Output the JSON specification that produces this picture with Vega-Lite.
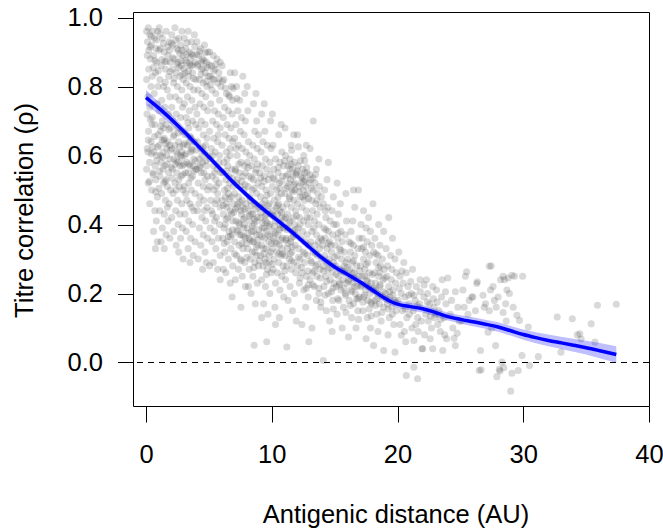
{
"$schema": "https://vega.github.io/schema/vega-lite/v6.json",
"width": 516, "height": 394,
"autosize": "none",
"padding": {"left": 133, "top": 12, "right": 14, "bottom": 124},
"background": "white",
"config": {
 "font": "Liberation Sans",
 "view": {"stroke": "black", "strokeWidth": 1},
 "axisX": {"domain": false, "grid": false, "tickSize": 16, "tickColor": "black", "tickWidth": 1, "labelFontSize": 25.5, "labelColor": "black", "labelPadding": 20, "labelFlush": false, "labelOverlap": false, "labelBound": false, "titleFontSize": 25.5, "titleFontWeight": "normal", "titleColor": "black", "titleX": 262.5, "titleY": 116, "titleBaseline": "alphabetic", "titleAlign": "center"},
 "axisY": {"domain": false, "grid": false, "tickSize": 15.5, "tickColor": "black", "tickWidth": 1, "labelFontSize": 25.5, "labelColor": "black", "labelPadding": 15, "labelFlush": false, "labelOverlap": false, "labelBound": false, "titleFontSize": 25.5, "titleFontWeight": "normal", "titleColor": "black", "titleX": -100.7, "titleY": 198, "titleBaseline": "alphabetic", "titleAlign": "center", "titleAngle": 270}
},
"datasets": {
"fit": [
{"x":0,"y":0.768,"lo":0.746,"hi":0.79},
{"x":1,"y":0.738,"lo":0.72,"hi":0.756},
{"x":2,"y":0.705,"lo":0.69,"hi":0.72},
{"x":3,"y":0.67,"lo":0.657,"hi":0.683},
{"x":4,"y":0.633,"lo":0.622,"hi":0.644},
{"x":5,"y":0.596,"lo":0.586,"hi":0.606},
{"x":6,"y":0.558,"lo":0.548,"hi":0.568},
{"x":7,"y":0.52,"lo":0.51,"hi":0.53},
{"x":8,"y":0.486,"lo":0.476,"hi":0.496},
{"x":9,"y":0.454,"lo":0.444,"hi":0.464},
{"x":10,"y":0.425,"lo":0.415,"hi":0.435},
{"x":11,"y":0.396,"lo":0.386,"hi":0.406},
{"x":12,"y":0.366,"lo":0.356,"hi":0.376},
{"x":13,"y":0.334,"lo":0.324,"hi":0.344},
{"x":14,"y":0.303,"lo":0.293,"hi":0.313},
{"x":15,"y":0.277,"lo":0.267,"hi":0.287},
{"x":16,"y":0.256,"lo":0.246,"hi":0.266},
{"x":17,"y":0.234,"lo":0.224,"hi":0.244},
{"x":18,"y":0.21,"lo":0.2,"hi":0.22},
{"x":19,"y":0.186,"lo":0.175,"hi":0.197},
{"x":19.5,"y":0.176,"lo":0.165,"hi":0.187},
{"x":20,"y":0.169,"lo":0.158,"hi":0.18},
{"x":21,"y":0.162,"lo":0.151,"hi":0.173},
{"x":22,"y":0.156,"lo":0.145,"hi":0.167},
{"x":23,"y":0.145,"lo":0.134,"hi":0.156},
{"x":24,"y":0.133,"lo":0.122,"hi":0.144},
{"x":25,"y":0.125,"lo":0.113,"hi":0.137},
{"x":26,"y":0.118,"lo":0.105,"hi":0.131},
{"x":27,"y":0.111,"lo":0.098,"hi":0.124},
{"x":28,"y":0.103,"lo":0.089,"hi":0.117},
{"x":29,"y":0.092,"lo":0.078,"hi":0.106},
{"x":30,"y":0.081,"lo":0.066,"hi":0.096},
{"x":31,"y":0.072,"lo":0.056,"hi":0.088},
{"x":32,"y":0.064,"lo":0.047,"hi":0.081},
{"x":33,"y":0.057,"lo":0.039,"hi":0.075},
{"x":34,"y":0.05,"lo":0.031,"hi":0.069},
{"x":35,"y":0.043,"lo":0.023,"hi":0.063},
{"x":36,"y":0.035,"lo":0.013,"hi":0.057},
{"x":37.4,"y":0.023,"lo":-0.001,"hi":0.047}
],
"pts": [
{"x":0.05,"y":0.96},{"x":0.12,"y":0.93},{"x":0.18,"y":0.97},{"x":0.3,"y":0.95},{"x":0.42,"y":0.92},{"x":0.55,"y":0.96},{"x":0.68,"y":0.94},{"x":0.8,"y":0.91},{"x":0.92,"y":0.96},{"x":0.1,"y":0.89},{"x":0.35,"y":0.88},{"x":0.6,"y":0.89},{"x":0.85,"y":0.87},{"x":0.22,"y":0.85},{"x":0.5,"y":0.83},{"x":0.75,"y":0.84},{"x":0.05,"y":0.82},{"x":0.4,"y":0.8},{"x":0.95,"y":0.8},{"x":0.15,"y":0.77},{"x":0.65,"y":0.78},{"x":0.3,"y":0.74},{"x":0.88,"y":0.75},{"x":0.08,"y":0.72},{"x":0.5,"y":0.71},{"x":0.7,"y":0.69},{"x":0.2,"y":0.67},{"x":0.95,"y":0.66},{"x":0.4,"y":0.64},{"x":0.1,"y":0.62},{"x":0.62,"y":0.61},{"x":0.85,"y":0.6},{"x":0.28,"y":0.58},{"x":0.05,"y":0.56},{"x":0.55,"y":0.55},{"x":0.78,"y":0.53},{"x":0.18,"y":0.52},{"x":0.45,"y":0.5},{"x":0.9,"y":0.48},{"x":0.3,"y":0.46},{"x":0.7,"y":0.44},{"x":0.82,"y":0.41},{"x":0.6,"y":0.38},{"x":0.9,"y":0.35},{"x":0.75,"y":0.33},{"x":0.48,"y":0.69},{"x":0.15,"y":0.61},{"x":0.72,"y":0.57},
{"x":1.05,"y":0.97},{"x":1.3,"y":0.94},{"x":1.6,"y":0.96},{"x":1.85,"y":0.93},{"x":1.15,"y":0.91},{"x":1.45,"y":0.9},{"x":1.75,"y":0.89},{"x":1.95,"y":0.87},{"x":1.2,"y":0.86},{"x":1.55,"y":0.85},{"x":1.8,"y":0.83},{"x":1.1,"y":0.82},{"x":1.4,"y":0.8},{"x":1.7,"y":0.79},{"x":1.25,"y":0.76},{"x":1.9,"y":0.77},{"x":1.5,"y":0.74},{"x":1.05,"y":0.73},{"x":1.8,"y":0.72},{"x":1.3,"y":0.7},{"x":1.6,"y":0.69},{"x":1.95,"y":0.68},{"x":1.15,"y":0.67},{"x":1.45,"y":0.65},{"x":1.75,"y":0.64},{"x":1.05,"y":0.63},{"x":1.35,"y":0.61},{"x":1.65,"y":0.6},{"x":1.9,"y":0.59},{"x":1.2,"y":0.58},{"x":1.5,"y":0.57},{"x":1.8,"y":0.55},{"x":1.1,"y":0.54},{"x":1.4,"y":0.52},{"x":1.7,"y":0.51},{"x":1.95,"y":0.5},{"x":1.25,"y":0.49},{"x":1.55,"y":0.47},{"x":1.85,"y":0.46},{"x":1.1,"y":0.44},{"x":1.45,"y":0.43},{"x":1.75,"y":0.41},{"x":1.3,"y":0.39},{"x":1.6,"y":0.37},{"x":1.2,"y":0.35},{"x":1.9,"y":0.36},{"x":1.45,"y":0.33},{"x":1.65,"y":0.62},{"x":1.35,"y":0.56},{"x":1.6,"y":0.53},{"x":1.15,"y":0.6},{"x":1.9,"y":0.63},{"x":1.4,"y":0.68},{"x":1.7,"y":0.45},
{"x":2.05,"y":0.95},{"x":2.3,"y":0.97},{"x":2.6,"y":0.94},{"x":2.85,"y":0.96},{"x":2.15,"y":0.92},{"x":2.45,"y":0.91},{"x":2.75,"y":0.92},{"x":2.95,"y":0.89},{"x":2.25,"y":0.88},{"x":2.55,"y":0.87},{"x":2.8,"y":0.86},{"x":2.1,"y":0.85},{"x":2.4,"y":0.84},{"x":2.7,"y":0.83},{"x":2.95,"y":0.82},{"x":2.2,"y":0.81},{"x":2.5,"y":0.8},{"x":2.85,"y":0.79},{"x":2.35,"y":0.77},{"x":2.65,"y":0.76},{"x":2.05,"y":0.74},{"x":2.9,"y":0.74},{"x":2.4,"y":0.72},{"x":2.75,"y":0.71},{"x":2.15,"y":0.7},{"x":2.5,"y":0.68},{"x":2.85,"y":0.67},{"x":2.25,"y":0.66},{"x":2.6,"y":0.64},{"x":2.95,"y":0.63},{"x":2.05,"y":0.62},{"x":2.4,"y":0.61},{"x":2.75,"y":0.6},{"x":2.2,"y":0.59},{"x":2.55,"y":0.58},{"x":2.9,"y":0.57},{"x":2.1,"y":0.56},{"x":2.45,"y":0.55},{"x":2.8,"y":0.54},{"x":2.3,"y":0.52},{"x":2.65,"y":0.51},{"x":2.95,"y":0.5},{"x":2.15,"y":0.49},{"x":2.5,"y":0.47},{"x":2.85,"y":0.46},{"x":2.35,"y":0.44},{"x":2.7,"y":0.43},{"x":2.05,"y":0.42},{"x":2.55,"y":0.4},{"x":2.9,"y":0.39},{"x":2.2,"y":0.38},{"x":2.75,"y":0.36},{"x":2.4,"y":0.34},{"x":2.95,"y":0.3},{"x":2.6,"y":0.32},{"x":2.3,"y":0.63},{"x":2.7,"y":0.57},{"x":2.6,"y":0.53},{"x":2.4,"y":0.5},{"x":2.85,"y":0.61},
{"x":3.05,"y":0.94},{"x":3.35,"y":0.96},{"x":3.6,"y":0.93},{"x":3.85,"y":0.95},{"x":3.15,"y":0.91},{"x":3.45,"y":0.9},{"x":3.75,"y":0.89},{"x":3.25,"y":0.87},{"x":3.55,"y":0.86},{"x":3.9,"y":0.87},{"x":3.1,"y":0.84},{"x":3.4,"y":0.83},{"x":3.7,"y":0.84},{"x":3.95,"y":0.82},{"x":3.2,"y":0.81},{"x":3.5,"y":0.8},{"x":3.8,"y":0.79},{"x":3.3,"y":0.77},{"x":3.65,"y":0.76},{"x":3.05,"y":0.75},{"x":3.9,"y":0.74},{"x":3.45,"y":0.73},{"x":3.2,"y":0.71},{"x":3.7,"y":0.7},{"x":3.95,"y":0.69},{"x":3.4,"y":0.68},{"x":3.1,"y":0.66},{"x":3.6,"y":0.65},{"x":3.85,"y":0.64},{"x":3.3,"y":0.63},{"x":3.55,"y":0.61},{"x":3.05,"y":0.6},{"x":3.8,"y":0.59},{"x":3.25,"y":0.58},{"x":3.5,"y":0.57},{"x":3.95,"y":0.56},{"x":3.15,"y":0.55},{"x":3.7,"y":0.54},{"x":3.4,"y":0.52},{"x":3.05,"y":0.51},{"x":3.6,"y":0.5},{"x":3.9,"y":0.49},{"x":3.25,"y":0.47},{"x":3.5,"y":0.46},{"x":3.8,"y":0.44},{"x":3.1,"y":0.43},{"x":3.4,"y":0.41},{"x":3.7,"y":0.4},{"x":3.2,"y":0.38},{"x":3.55,"y":0.36},{"x":3.9,"y":0.35},{"x":3.35,"y":0.33},{"x":3.75,"y":0.31},{"x":3.5,"y":0.29},{"x":3.6,"y":0.62},{"x":3.35,"y":0.55},{"x":3.75,"y":0.57},{"x":3.15,"y":0.49},{"x":3.65,"y":0.45},{"x":3.45,"y":0.64},
{"x":4.05,"y":0.93},{"x":4.35,"y":0.91},{"x":4.65,"y":0.92},{"x":4.9,"y":0.9},{"x":4.2,"y":0.89},{"x":4.5,"y":0.88},{"x":4.8,"y":0.87},{"x":4.1,"y":0.86},{"x":4.4,"y":0.85},{"x":4.7,"y":0.84},{"x":4.95,"y":0.83},{"x":4.25,"y":0.82},{"x":4.55,"y":0.81},{"x":4.85,"y":0.8},{"x":4.15,"y":0.79},{"x":4.45,"y":0.78},{"x":4.75,"y":0.77},{"x":4.3,"y":0.75},{"x":4.6,"y":0.74},{"x":4.9,"y":0.73},{"x":4.05,"y":0.72},{"x":4.4,"y":0.7},{"x":4.7,"y":0.69},{"x":4.2,"y":0.68},{"x":4.55,"y":0.66},{"x":4.85,"y":0.65},{"x":4.1,"y":0.64},{"x":4.35,"y":0.62},{"x":4.65,"y":0.61},{"x":4.95,"y":0.6},{"x":4.25,"y":0.59},{"x":4.5,"y":0.58},{"x":4.8,"y":0.57},{"x":4.05,"y":0.56},{"x":4.4,"y":0.55},{"x":4.7,"y":0.53},{"x":4.15,"y":0.52},{"x":4.55,"y":0.51},{"x":4.9,"y":0.5},{"x":4.3,"y":0.48},{"x":4.6,"y":0.47},{"x":4.85,"y":0.45},{"x":4.1,"y":0.44},{"x":4.45,"y":0.42},{"x":4.75,"y":0.41},{"x":4.25,"y":0.39},{"x":4.55,"y":0.37},{"x":4.9,"y":0.36},{"x":4.35,"y":0.34},{"x":4.7,"y":0.32},{"x":4.15,"y":0.3},{"x":4.5,"y":0.27},{"x":4.8,"y":0.29},{"x":4.6,"y":0.55},{"x":4.3,"y":0.57},{"x":4.75,"y":0.63},{"x":4.45,"y":0.6},{"x":4.2,"y":0.46},{"x":4.65,"y":0.44},{"x":4.9,"y":0.54},
{"x":5.05,"y":0.9},{"x":5.35,"y":0.89},{"x":5.65,"y":0.88},{"x":5.9,"y":0.87},{"x":5.2,"y":0.86},{"x":5.5,"y":0.85},{"x":5.8,"y":0.84},{"x":5.1,"y":0.83},{"x":5.4,"y":0.82},{"x":5.7,"y":0.81},{"x":5.95,"y":0.8},{"x":5.25,"y":0.79},{"x":5.55,"y":0.78},{"x":5.85,"y":0.76},{"x":5.15,"y":0.75},{"x":5.45,"y":0.73},{"x":5.75,"y":0.72},{"x":5.3,"y":0.7},{"x":5.6,"y":0.69},{"x":5.9,"y":0.68},{"x":5.05,"y":0.67},{"x":5.4,"y":0.65},{"x":5.7,"y":0.64},{"x":5.2,"y":0.62},{"x":5.5,"y":0.61},{"x":5.85,"y":0.6},{"x":5.1,"y":0.59},{"x":5.35,"y":0.57},{"x":5.65,"y":0.56},{"x":5.95,"y":0.55},{"x":5.25,"y":0.54},{"x":5.55,"y":0.53},{"x":5.8,"y":0.52},{"x":5.05,"y":0.51},{"x":5.4,"y":0.5},{"x":5.7,"y":0.49},{"x":5.15,"y":0.47},{"x":5.5,"y":0.46},{"x":5.9,"y":0.45},{"x":5.3,"y":0.43},{"x":5.6,"y":0.42},{"x":5.85,"y":0.4},{"x":5.1,"y":0.39},{"x":5.45,"y":0.38},{"x":5.75,"y":0.36},{"x":5.25,"y":0.35},{"x":5.55,"y":0.33},{"x":5.9,"y":0.31},{"x":5.35,"y":0.29},{"x":5.7,"y":0.27},{"x":5.05,"y":0.28},{"x":5.9,"y":0.24},{"x":5.45,"y":0.55},{"x":5.65,"y":0.47},{"x":5.3,"y":0.6},{"x":5.8,"y":0.58},{"x":5.2,"y":0.44},{"x":5.6,"y":0.51},{"x":5.75,"y":0.66},{"x":5.45,"y":0.41},
{"x":6.05,"y":0.86},{"x":6.7,"y":0.84},{"x":6.2,"y":0.82},{"x":6.8,"y":0.8},{"x":6.4,"y":0.78},{"x":6.65,"y":0.77},{"x":6.9,"y":0.76},{"x":6.25,"y":0.74},{"x":6.55,"y":0.73},{"x":6.85,"y":0.72},{"x":6.15,"y":0.71},{"x":6.45,"y":0.69},{"x":6.75,"y":0.68},{"x":6.3,"y":0.66},{"x":6.6,"y":0.65},{"x":6.9,"y":0.64},{"x":6.05,"y":0.63},{"x":6.4,"y":0.61},{"x":6.7,"y":0.6},{"x":6.2,"y":0.58},{"x":6.5,"y":0.57},{"x":6.85,"y":0.56},{"x":6.1,"y":0.55},{"x":6.35,"y":0.53},{"x":6.65,"y":0.52},{"x":6.95,"y":0.51},{"x":6.25,"y":0.5},{"x":6.55,"y":0.49},{"x":6.8,"y":0.48},{"x":6.05,"y":0.47},{"x":6.4,"y":0.46},{"x":6.7,"y":0.44},{"x":6.15,"y":0.43},{"x":6.5,"y":0.42},{"x":6.9,"y":0.41},{"x":6.3,"y":0.4},{"x":6.6,"y":0.38},{"x":6.85,"y":0.37},{"x":6.1,"y":0.36},{"x":6.45,"y":0.35},{"x":6.75,"y":0.33},{"x":6.25,"y":0.32},{"x":6.55,"y":0.3},{"x":6.9,"y":0.28},{"x":6.35,"y":0.26},{"x":6.7,"y":0.23},{"x":6.85,"y":0.19},{"x":6.15,"y":0.27},{"x":6.45,"y":0.45},{"x":6.6,"y":0.54},{"x":6.3,"y":0.48},{"x":6.8,"y":0.43},{"x":6.2,"y":0.39},{"x":6.7,"y":0.62},{"x":6.45,"y":0.59},{"x":6.95,"y":0.46},
{"x":7.05,"y":0.84},{"x":7.7,"y":0.83},{"x":7.2,"y":0.8},{"x":7.85,"y":0.78},{"x":7.45,"y":0.76},{"x":7.3,"y":0.73},{"x":7.6,"y":0.71},{"x":7.9,"y":0.7},{"x":7.15,"y":0.69},{"x":7.5,"y":0.67},{"x":7.8,"y":0.66},{"x":7.05,"y":0.65},{"x":7.35,"y":0.63},{"x":7.65,"y":0.62},{"x":7.95,"y":0.61},{"x":7.25,"y":0.6},{"x":7.55,"y":0.58},{"x":7.85,"y":0.57},{"x":7.1,"y":0.56},{"x":7.4,"y":0.55},{"x":7.7,"y":0.54},{"x":7.2,"y":0.52},{"x":7.5,"y":0.51},{"x":7.8,"y":0.5},{"x":7.05,"y":0.49},{"x":7.35,"y":0.48},{"x":7.65,"y":0.47},{"x":7.95,"y":0.46},{"x":7.25,"y":0.45},{"x":7.55,"y":0.44},{"x":7.85,"y":0.42},{"x":7.15,"y":0.41},{"x":7.45,"y":0.4},{"x":7.75,"y":0.39},{"x":7.3,"y":0.38},{"x":7.6,"y":0.37},{"x":7.9,"y":0.36},{"x":7.05,"y":0.35},{"x":7.4,"y":0.34},{"x":7.7,"y":0.33},{"x":7.2,"y":0.31},{"x":7.5,"y":0.3},{"x":7.85,"y":0.29},{"x":7.35,"y":0.27},{"x":7.65,"y":0.25},{"x":7.55,"y":0.16},{"x":7.9,"y":0.22},{"x":7.1,"y":0.24},{"x":7.6,"y":0.43},{"x":7.3,"y":0.46},{"x":7.8,"y":0.4},{"x":7.45,"y":0.37},{"x":7.7,"y":0.45},{"x":7.25,"y":0.53},{"x":7.9,"y":0.55},{"x":7.15,"y":0.62},
{"x":8.05,"y":0.8},{"x":8.75,"y":0.78},{"x":8.55,"y":0.75},{"x":8.1,"y":0.73},{"x":8.8,"y":0.7},{"x":8.65,"y":0.67},{"x":8.95,"y":0.66},{"x":8.15,"y":0.64},{"x":8.5,"y":0.63},{"x":8.85,"y":0.62},{"x":8.25,"y":0.6},{"x":8.6,"y":0.59},{"x":8.05,"y":0.58},{"x":8.4,"y":0.57},{"x":8.75,"y":0.56},{"x":8.2,"y":0.54},{"x":8.55,"y":0.53},{"x":8.9,"y":0.52},{"x":8.1,"y":0.51},{"x":8.45,"y":0.5},{"x":8.8,"y":0.49},{"x":8.3,"y":0.47},{"x":8.65,"y":0.46},{"x":8.95,"y":0.45},{"x":8.15,"y":0.44},{"x":8.5,"y":0.43},{"x":8.85,"y":0.42},{"x":8.25,"y":0.41},{"x":8.6,"y":0.4},{"x":8.05,"y":0.39},{"x":8.4,"y":0.38},{"x":8.75,"y":0.37},{"x":8.2,"y":0.36},{"x":8.55,"y":0.35},{"x":8.9,"y":0.34},{"x":8.1,"y":0.33},{"x":8.45,"y":0.32},{"x":8.8,"y":0.31},{"x":8.3,"y":0.3},{"x":8.65,"y":0.29},{"x":8.95,"y":0.28},{"x":8.2,"y":0.27},{"x":8.5,"y":0.25},{"x":8.85,"y":0.23},{"x":8.35,"y":0.2},{"x":8.7,"y":0.17},{"x":8.6,"y":0.05},{"x":8.15,"y":0.22},{"x":8.55,"y":0.38},{"x":8.35,"y":0.43},{"x":8.75,"y":0.41},{"x":8.45,"y":0.35},{"x":8.65,"y":0.32},{"x":8.25,"y":0.48},{"x":8.7,"y":0.55},
{"x":9.4,"y":0.75},{"x":9.2,"y":0.72},{"x":9.9,"y":0.7},{"x":9.45,"y":0.67},{"x":9.3,"y":0.64},{"x":9.65,"y":0.63},{"x":9.95,"y":0.62},{"x":9.15,"y":0.61},{"x":9.5,"y":0.59},{"x":9.85,"y":0.58},{"x":9.25,"y":0.57},{"x":9.6,"y":0.56},{"x":9.05,"y":0.55},{"x":9.4,"y":0.54},{"x":9.75,"y":0.53},{"x":9.2,"y":0.51},{"x":9.55,"y":0.5},{"x":9.9,"y":0.49},{"x":9.1,"y":0.48},{"x":9.45,"y":0.47},{"x":9.8,"y":0.46},{"x":9.3,"y":0.45},{"x":9.65,"y":0.44},{"x":9.95,"y":0.43},{"x":9.15,"y":0.42},{"x":9.5,"y":0.41},{"x":9.85,"y":0.4},{"x":9.25,"y":0.39},{"x":9.6,"y":0.38},{"x":9.05,"y":0.37},{"x":9.4,"y":0.36},{"x":9.75,"y":0.35},{"x":9.2,"y":0.34},{"x":9.55,"y":0.33},{"x":9.9,"y":0.32},{"x":9.1,"y":0.31},{"x":9.45,"y":0.3},{"x":9.8,"y":0.29},{"x":9.3,"y":0.28},{"x":9.65,"y":0.27},{"x":9.95,"y":0.26},{"x":9.2,"y":0.24},{"x":9.5,"y":0.22},{"x":9.85,"y":0.2},{"x":9.35,"y":0.17},{"x":9.7,"y":0.14},{"x":9.2,"y":0.13},{"x":9.6,"y":0.06},{"x":9.4,"y":0.39},{"x":9.7,"y":0.37},{"x":9.35,"y":0.33},{"x":9.6,"y":0.43},{"x":9.8,"y":0.31},{"x":9.25,"y":0.46},{"x":9.55,"y":0.29},
{"x":10.05,"y":0.72},{"x":10.75,"y":0.69},{"x":10.55,"y":0.66},{"x":10.1,"y":0.63},{"x":10.8,"y":0.61},{"x":10.3,"y":0.59},{"x":10.65,"y":0.58},{"x":10.95,"y":0.57},{"x":10.15,"y":0.56},{"x":10.5,"y":0.55},{"x":10.85,"y":0.54},{"x":10.25,"y":0.53},{"x":10.6,"y":0.52},{"x":10.05,"y":0.51},{"x":10.4,"y":0.5},{"x":10.75,"y":0.49},{"x":10.2,"y":0.47},{"x":10.55,"y":0.46},{"x":10.9,"y":0.45},{"x":10.1,"y":0.44},{"x":10.45,"y":0.43},{"x":10.8,"y":0.42},{"x":10.3,"y":0.41},{"x":10.65,"y":0.4},{"x":10.95,"y":0.39},{"x":10.15,"y":0.38},{"x":10.5,"y":0.37},{"x":10.85,"y":0.36},{"x":10.25,"y":0.35},{"x":10.6,"y":0.34},{"x":10.05,"y":0.33},{"x":10.4,"y":0.32},{"x":10.75,"y":0.31},{"x":10.2,"y":0.3},{"x":10.55,"y":0.29},{"x":10.9,"y":0.28},{"x":10.1,"y":0.27},{"x":10.45,"y":0.26},{"x":10.8,"y":0.25},{"x":10.3,"y":0.23},{"x":10.65,"y":0.21},{"x":10.95,"y":0.19},{"x":10.25,"y":0.16},{"x":10.6,"y":0.13},{"x":10.3,"y":0.11},{"x":10.7,"y":0.39},{"x":10.35,"y":0.45},{"x":10.8,"y":0.33},{"x":10.5,"y":0.48},{"x":10.15,"y":0.36},{"x":10.65,"y":0.44},
{"x":11.05,"y":0.68},{"x":11.75,"y":0.66},{"x":11.55,"y":0.63},{"x":11.1,"y":0.6},{"x":11.45,"y":0.59},{"x":11.8,"y":0.58},{"x":11.3,"y":0.57},{"x":11.65,"y":0.56},{"x":11.95,"y":0.55},{"x":11.15,"y":0.54},{"x":11.5,"y":0.53},{"x":11.85,"y":0.52},{"x":11.25,"y":0.51},{"x":11.6,"y":0.5},{"x":11.05,"y":0.49},{"x":11.4,"y":0.48},{"x":11.75,"y":0.47},{"x":11.2,"y":0.46},{"x":11.55,"y":0.45},{"x":11.9,"y":0.44},{"x":11.1,"y":0.42},{"x":11.45,"y":0.41},{"x":11.8,"y":0.4},{"x":11.3,"y":0.39},{"x":11.65,"y":0.38},{"x":11.95,"y":0.37},{"x":11.15,"y":0.36},{"x":11.5,"y":0.35},{"x":11.85,"y":0.34},{"x":11.25,"y":0.33},{"x":11.6,"y":0.32},{"x":11.05,"y":0.31},{"x":11.4,"y":0.3},{"x":11.75,"y":0.29},{"x":11.2,"y":0.28},{"x":11.55,"y":0.27},{"x":11.9,"y":0.26},{"x":11.1,"y":0.24},{"x":11.45,"y":0.22},{"x":11.8,"y":0.2},{"x":11.3,"y":0.18},{"x":11.65,"y":0.15},{"x":11.2,"y":0.045},{"x":11.95,"y":0.12},{"x":11.35,"y":0.52},{"x":11.7,"y":0.54},{"x":11.45,"y":0.56},{"x":11.85,"y":0.5},{"x":11.55,"y":0.36},{"x":11.25,"y":0.43},{"x":11.7,"y":0.42},
{"x":12.05,"y":0.66},{"x":12.75,"y":0.63},{"x":12.55,"y":0.6},{"x":12.1,"y":0.57},{"x":12.45,"y":0.56},{"x":12.8,"y":0.55},{"x":12.3,"y":0.54},{"x":12.65,"y":0.53},{"x":12.95,"y":0.52},{"x":12.15,"y":0.51},{"x":12.5,"y":0.5},{"x":12.85,"y":0.49},{"x":12.25,"y":0.48},{"x":12.6,"y":0.47},{"x":12.05,"y":0.46},{"x":12.4,"y":0.45},{"x":12.75,"y":0.44},{"x":12.2,"y":0.42},{"x":12.55,"y":0.41},{"x":12.9,"y":0.4},{"x":12.1,"y":0.39},{"x":12.45,"y":0.38},{"x":12.8,"y":0.37},{"x":12.3,"y":0.36},{"x":12.65,"y":0.35},{"x":12.95,"y":0.34},{"x":12.15,"y":0.33},{"x":12.5,"y":0.32},{"x":12.85,"y":0.31},{"x":12.25,"y":0.3},{"x":12.6,"y":0.29},{"x":12.05,"y":0.28},{"x":12.4,"y":0.26},{"x":12.75,"y":0.25},{"x":12.2,"y":0.23},{"x":12.55,"y":0.21},{"x":12.9,"y":0.19},{"x":12.4,"y":0.11},{"x":12.7,"y":0.16},{"x":12.95,"y":0.06},{"x":12.35,"y":0.52},{"x":12.7,"y":0.51},{"x":12.6,"y":0.55},{"x":12.45,"y":0.48},{"x":12.8,"y":0.42},{"x":12.25,"y":0.4},
{"x":13.3,"y":0.7},{"x":13.05,"y":0.62},{"x":13.75,"y":0.59},{"x":13.55,"y":0.56},{"x":13.1,"y":0.53},{"x":13.45,"y":0.52},{"x":13.8,"y":0.51},{"x":13.3,"y":0.5},{"x":13.65,"y":0.49},{"x":13.95,"y":0.48},{"x":13.15,"y":0.47},{"x":13.5,"y":0.46},{"x":13.85,"y":0.45},{"x":13.25,"y":0.44},{"x":13.6,"y":0.43},{"x":13.05,"y":0.42},{"x":13.4,"y":0.41},{"x":13.75,"y":0.4},{"x":13.2,"y":0.38},{"x":13.55,"y":0.37},{"x":13.9,"y":0.36},{"x":13.1,"y":0.35},{"x":13.45,"y":0.34},{"x":13.8,"y":0.33},{"x":13.3,"y":0.32},{"x":13.65,"y":0.31},{"x":13.95,"y":0.3},{"x":13.15,"y":0.29},{"x":13.5,"y":0.28},{"x":13.85,"y":0.27},{"x":13.25,"y":0.26},{"x":13.6,"y":0.25},{"x":13.05,"y":0.24},{"x":13.4,"y":0.22},{"x":13.75,"y":0.2},{"x":13.2,"y":0.1},{"x":13.55,"y":0.18},{"x":13.9,"y":0.16},{"x":13.35,"y":0.39},{"x":13.7,"y":0.35},{"x":13.6,"y":0.47},
{"x":14.5,"y":0.58},{"x":14.4,"y":0.53},{"x":14.2,"y":0.5},{"x":14.9,"y":0.48},{"x":14.1,"y":0.46},{"x":14.45,"y":0.45},{"x":14.8,"y":0.44},{"x":14.3,"y":0.42},{"x":14.65,"y":0.41},{"x":14.95,"y":0.4},{"x":14.15,"y":0.39},{"x":14.5,"y":0.38},{"x":14.85,"y":0.37},{"x":14.25,"y":0.36},{"x":14.6,"y":0.35},{"x":14.05,"y":0.34},{"x":14.4,"y":0.33},{"x":14.75,"y":0.32},{"x":14.2,"y":0.31},{"x":14.55,"y":0.3},{"x":14.9,"y":0.29},{"x":14.1,"y":0.28},{"x":14.45,"y":0.27},{"x":14.8,"y":0.26},{"x":14.3,"y":0.25},{"x":14.65,"y":0.24},{"x":14.95,"y":0.23},{"x":14.15,"y":0.22},{"x":14.5,"y":0.2},{"x":14.85,"y":0.18},{"x":14.35,"y":0.15},{"x":14.8,"y":0.09},{"x":14.1,"y":0.006},{"x":14.6,"y":0.12},{"x":14.4,"y":0.29},{"x":14.7,"y":0.34},{"x":14.25,"y":0.44},
{"x":15.2,"y":0.52},{"x":15.9,"y":0.49},{"x":15.45,"y":0.46},{"x":15.3,"y":0.43},{"x":15.95,"y":0.41},{"x":15.15,"y":0.4},{"x":15.5,"y":0.38},{"x":15.85,"y":0.37},{"x":15.25,"y":0.36},{"x":15.6,"y":0.35},{"x":15.05,"y":0.34},{"x":15.4,"y":0.33},{"x":15.75,"y":0.32},{"x":15.2,"y":0.31},{"x":15.55,"y":0.3},{"x":15.9,"y":0.29},{"x":15.1,"y":0.28},{"x":15.45,"y":0.27},{"x":15.8,"y":0.26},{"x":15.3,"y":0.25},{"x":15.65,"y":0.24},{"x":15.95,"y":0.23},{"x":15.15,"y":0.22},{"x":15.5,"y":0.21},{"x":15.85,"y":0.2},{"x":15.35,"y":0.18},{"x":15.7,"y":0.16},{"x":15.2,"y":0.14},{"x":15.6,"y":0.1},{"x":15.4,"y":0.23},{"x":15.75,"y":0.28},
{"x":16.5,"y":0.5},{"x":16.9,"y":0.5},{"x":16.6,"y":0.45},{"x":16.45,"y":0.41},{"x":16.3,"y":0.38},{"x":16.95,"y":0.36},{"x":16.15,"y":0.35},{"x":16.5,"y":0.34},{"x":16.85,"y":0.33},{"x":16.25,"y":0.32},{"x":16.6,"y":0.31},{"x":16.05,"y":0.3},{"x":16.4,"y":0.29},{"x":16.75,"y":0.28},{"x":16.2,"y":0.27},{"x":16.55,"y":0.26},{"x":16.9,"y":0.25},{"x":16.1,"y":0.24},{"x":16.45,"y":0.23},{"x":16.8,"y":0.22},{"x":16.3,"y":0.21},{"x":16.65,"y":0.2},{"x":16.95,"y":0.19},{"x":16.15,"y":0.18},{"x":16.5,"y":0.17},{"x":16.85,"y":0.15},{"x":16.35,"y":0.13},{"x":16.7,"y":0.1},{"x":16.1,"y":0.074},{"x":16.6,"y":0.22},{"x":16.4,"y":0.26},
{"x":17.3,"y":0.44},{"x":17.7,"y":0.42},{"x":18.05,"y":0.46},{"x":17.1,"y":0.4},{"x":17.5,"y":0.39},{"x":17.85,"y":0.38},{"x":17.2,"y":0.36},{"x":17.6,"y":0.35},{"x":17.95,"y":0.34},{"x":17.15,"y":0.33},{"x":17.45,"y":0.32},{"x":17.8,"y":0.31},{"x":17.3,"y":0.3},{"x":17.65,"y":0.29},{"x":17.05,"y":0.28},{"x":17.4,"y":0.27},{"x":17.75,"y":0.26},{"x":17.2,"y":0.25},{"x":17.55,"y":0.24},{"x":17.9,"y":0.23},{"x":17.1,"y":0.22},{"x":17.45,"y":0.21},{"x":17.8,"y":0.2},{"x":17.3,"y":0.19},{"x":17.65,"y":0.18},{"x":17.95,"y":0.17},{"x":17.25,"y":0.15},{"x":17.6,"y":0.13},{"x":17.5,"y":0.069},{"x":17.85,"y":0.1},{"x":17.4,"y":0.25},{"x":17.7,"y":0.22},
{"x":18.5,"y":0.4},{"x":18.9,"y":0.38},{"x":18.2,"y":0.36},{"x":18.6,"y":0.34},{"x":18.1,"y":0.32},{"x":18.45,"y":0.31},{"x":18.8,"y":0.3},{"x":18.3,"y":0.29},{"x":18.65,"y":0.28},{"x":18.95,"y":0.27},{"x":18.15,"y":0.26},{"x":18.5,"y":0.25},{"x":18.85,"y":0.24},{"x":18.25,"y":0.23},{"x":18.6,"y":0.22},{"x":18.05,"y":0.21},{"x":18.4,"y":0.2},{"x":18.75,"y":0.19},{"x":18.2,"y":0.18},{"x":18.55,"y":0.17},{"x":18.9,"y":0.16},{"x":18.35,"y":0.14},{"x":18.7,"y":0.12},{"x":18.1,"y":0.049},{"x":18.9,"y":0.035},{"x":18.45,"y":0.09},{"x":18.6,"y":0.26},{"x":18.3,"y":0.21},
{"x":19.3,"y":0.42},{"x":19.6,"y":0.36},{"x":19.1,"y":0.33},{"x":19.45,"y":0.31},{"x":19.8,"y":0.3},{"x":19.2,"y":0.28},{"x":19.55,"y":0.27},{"x":19.9,"y":0.26},{"x":19.15,"y":0.25},{"x":19.5,"y":0.24},{"x":19.85,"y":0.23},{"x":19.3,"y":0.22},{"x":19.65,"y":0.21},{"x":19.05,"y":0.2},{"x":19.4,"y":0.19},{"x":19.75,"y":0.18},{"x":19.2,"y":0.17},{"x":19.55,"y":0.16},{"x":19.9,"y":0.15},{"x":19.35,"y":0.13},{"x":19.7,"y":0.11},{"x":19.8,"y":0.03},{"x":19.25,"y":0.08},{"x":19.6,"y":0.14},
{"x":20.1,"y":0.32},{"x":20.5,"y":0.29},{"x":20.7,"y":0.26},{"x":20.2,"y":0.25},{"x":20.45,"y":0.23},{"x":20.85,"y":0.22},{"x":20.3,"y":0.2},{"x":20.6,"y":0.19},{"x":20.05,"y":0.18},{"x":20.9,"y":0.17},{"x":20.4,"y":0.15},{"x":20.75,"y":0.13},{"x":20.2,"y":0.11},{"x":20.3,"y":0.079},{"x":20.65,"y":0.06},{"x":20.7,"y":-0.038},{"x":20.55,"y":0.09},{"x":20.95,"y":0.14},
{"x":21.8,"y":0.24},{"x":21.2,"y":0.27},{"x":21.5,"y":0.22},{"x":21.1,"y":0.2},{"x":21.4,"y":0.18},{"x":21.75,"y":0.17},{"x":21.25,"y":0.15},{"x":21.6,"y":0.13},{"x":21.9,"y":0.12},{"x":21.3,"y":0.064},{"x":21.65,"y":0.09},{"x":21.3,"y":-0.014},{"x":21.6,"y":-0.047},{"x":21.95,"y":0.04},{"x":21.45,"y":0.11},{"x":21.15,"y":0.1},
{"x":22.8,"y":0.22},{"x":22.3,"y":0.24},{"x":22.1,"y":0.19},{"x":22.55,"y":0.17},{"x":22.9,"y":0.16},{"x":22.25,"y":0.14},{"x":22.6,"y":0.069},{"x":22.8,"y":0.04},{"x":22.0,"y":0.04},{"x":22.45,"y":0.12},{"x":22.7,"y":0.1},{"x":22.15,"y":0.08},{"x":22.95,"y":0.13},{"x":22.4,"y":0.2},
{"x":23.1,"y":0.21},{"x":23.5,"y":0.19},{"x":23.85,"y":0.17},{"x":23.3,"y":0.15},{"x":23.7,"y":0.13},{"x":23.2,"y":0.11},{"x":23.6,"y":0.035},{"x":23.9,"y":0.069},{"x":23.4,"y":0.09},{"x":23.75,"y":0.08},{"x":23.05,"y":0.14},{"x":23.55,"y":0.24},
{"x":24.0,"y":0.245},{"x":24.6,"y":0.205},{"x":24.3,"y":0.18},{"x":24.8,"y":0.16},{"x":24.2,"y":0.14},{"x":24.6,"y":0.049},{"x":24.5,"y":0.07},{"x":24.9,"y":0.12},{"x":24.4,"y":0.1},{"x":24.75,"y":0.085},
{"x":25.5,"y":0.263},{"x":25.4,"y":0.25},{"x":25.2,"y":0.21},{"x":25.7,"y":0.18},{"x":25.3,"y":0.16},{"x":25.9,"y":0.19},{"x":25.6,"y":0.14},{"x":25.1,"y":0.12},
{"x":26.0,"y":0.19},{"x":26.3,"y":0.229},{"x":26.35,"y":0.234},{"x":26.8,"y":0.195},{"x":26.6,"y":0.035},{"x":26.5,"y":-0.023},{"x":26.65,"y":-0.021},{"x":26.9,"y":0.16},{"x":26.2,"y":0.15},
{"x":27.3,"y":0.279},{"x":27.45,"y":0.28},{"x":27.4,"y":0.21},{"x":27.2,"y":0.088},{"x":27.5,"y":0.1},{"x":27.0,"y":0.17},{"x":27.3,"y":0.15},{"x":27.7,"y":0.18},{"x":27.8,"y":0.049},{"x":27.9,"y":-0.041},{"x":27.6,"y":0.22},{"x":27.85,"y":0.16},
{"x":28.2,"y":0.24},{"x":28.5,"y":0.24},{"x":28.4,"y":0.25},{"x":28.8,"y":0.245},{"x":28.6,"y":0.17},{"x":28.65,"y":0.12},{"x":28.4,"y":0.145},{"x":28.3,"y":0.001},{"x":28.45,"y":-0.015},{"x":28.1,"y":-0.02},{"x":28.15,"y":-0.025},{"x":28.9,"y":0.2},{"x":28.0,"y":0.19},{"x":28.7,"y":0.21},
{"x":29.1,"y":0.253},{"x":29.3,"y":0.25},{"x":29.95,"y":0.25},{"x":29.0,"y":-0.083},{"x":29.1,"y":-0.031},{"x":29.6,"y":-0.023},{"x":29.9,"y":0.02},{"x":29.7,"y":0.122},{"x":29.5,"y":0.137},{"x":29.2,"y":0.16},
{"x":30.4,"y":0.103},{"x":30.5,"y":-0.009},{"x":31.2,"y":0.017},{"x":32.7,"y":0.132},{"x":33.0,"y":0.03},{"x":33.9,"y":0.127},{"x":34.5,"y":0.083},{"x":34.3,"y":0.08},{"x":34.6,"y":0.068},{"x":35.4,"y":0.112},{"x":35.9,"y":0.166},{"x":37.4,"y":0.169},{"x":35.7,"y":0.059},
{"x":0.33,"y":0.915},{"x":0.72,"y":0.875},{"x":1.02,"y":0.905},{"x":1.38,"y":0.925},{"x":1.62,"y":0.872},{"x":1.88,"y":0.905},{"x":2.12,"y":0.883},{"x":2.38,"y":0.935},{"x":2.62,"y":0.855},{"x":2.88,"y":0.905},{"x":3.12,"y":0.875},{"x":3.38,"y":0.845},{"x":3.62,"y":0.895},{"x":3.88,"y":0.915},{"x":4.12,"y":0.865},{"x":4.38,"y":0.835},{"x":4.62,"y":0.875},{"x":4.88,"y":0.855},{"x":5.12,"y":0.805},{"x":5.38,"y":0.845},{"x":0.58,"y":0.855},{"x":0.97,"y":0.845},{"x":1.27,"y":0.878},{"x":1.53,"y":0.812},{"x":1.92,"y":0.843},{"x":2.23,"y":0.823},{"x":2.57,"y":0.905},{"x":2.78,"y":0.875},{"x":3.03,"y":0.853},{"x":3.27,"y":0.927},{"x":3.53,"y":0.883},{"x":3.77,"y":0.823},{"x":4.03,"y":0.893},{"x":4.27,"y":0.902},{"x":4.53,"y":0.853},{"x":4.78,"y":0.815},{"x":5.03,"y":0.862},{"x":5.28,"y":0.823},{"x":5.55,"y":0.864},{"x":5.82,"y":0.822},{"x":2.47,"y":0.865},{"x":3.67,"y":0.862},{"x":1.72,"y":0.915},{"x":2.92,"y":0.835},{"x":4.42,"y":0.872},{"x":1.12,"y":0.952},{"x":0.42,"y":0.945},{"x":2.02,"y":0.925},{"x":3.22,"y":0.893},{"x":4.72,"y":0.898},{"x":6.08,"y":0.815},{"x":6.32,"y":0.795},{"x":6.58,"y":0.775},{"x":6.92,"y":0.795},{"x":7.22,"y":0.765},{"x":2.68,"y":0.895},{"x":3.48,"y":0.865},{"x":1.48,"y":0.873},{"x":0.82,"y":0.935},{"x":0.22,"y":0.905},
{"x":0.18,"y":0.645},{"x":0.42,"y":0.605},{"x":0.68,"y":0.655},{"x":0.92,"y":0.625},{"x":1.18,"y":0.685},{"x":1.42,"y":0.645},{"x":1.68,"y":0.575},{"x":1.93,"y":0.615},{"x":2.18,"y":0.655},{"x":2.43,"y":0.585},{"x":2.68,"y":0.625},{"x":2.93,"y":0.545},{"x":3.18,"y":0.605},{"x":3.43,"y":0.575},{"x":3.68,"y":0.615},{"x":3.93,"y":0.585},{"x":0.33,"y":0.705},{"x":0.57,"y":0.545},{"x":0.83,"y":0.585},{"x":1.07,"y":0.555},{"x":1.33,"y":0.595},{"x":1.57,"y":0.635},{"x":1.83,"y":0.675},{"x":2.07,"y":0.535},{"x":2.33,"y":0.575},{"x":2.57,"y":0.665},{"x":2.83,"y":0.595},{"x":3.07,"y":0.635},{"x":3.33,"y":0.695},{"x":3.57,"y":0.535},{"x":3.83,"y":0.555},{"x":0.27,"y":0.525},{"x":0.52,"y":0.625},{"x":1.02,"y":0.505},{"x":1.52,"y":0.525},{"x":2.02,"y":0.565},{"x":2.52,"y":0.605},{"x":3.02,"y":0.575},{"x":3.52,"y":0.655},{"x":4.02,"y":0.615},{"x":4.27,"y":0.565},{"x":4.52,"y":0.625},{"x":4.77,"y":0.585},{"x":0.77,"y":0.495},{"x":1.27,"y":0.645},
{"x":6.12,"y":0.455},{"x":6.37,"y":0.415},{"x":6.62,"y":0.475},{"x":6.87,"y":0.385},{"x":7.12,"y":0.445},{"x":7.37,"y":0.405},{"x":7.62,"y":0.345},{"x":7.87,"y":0.445},{"x":8.12,"y":0.375},{"x":8.37,"y":0.455},{"x":8.62,"y":0.415},{"x":8.87,"y":0.355},{"x":9.12,"y":0.435},{"x":9.37,"y":0.315},{"x":9.62,"y":0.405},{"x":9.87,"y":0.365},{"x":10.12,"y":0.425},{"x":10.37,"y":0.345},{"x":10.62,"y":0.385},{"x":10.87,"y":0.315},{"x":11.12,"y":0.355},{"x":11.37,"y":0.405},{"x":11.62,"y":0.335},{"x":11.87,"y":0.385},{"x":6.22,"y":0.345},{"x":6.47,"y":0.505},{"x":6.72,"y":0.365},{"x":6.97,"y":0.435},{"x":7.22,"y":0.385},{"x":7.47,"y":0.465},{"x":7.72,"y":0.415},{"x":7.97,"y":0.345},{"x":8.22,"y":0.425},{"x":8.47,"y":0.395},{"x":8.72,"y":0.445},{"x":8.97,"y":0.385},{"x":9.22,"y":0.365},{"x":9.47,"y":0.425},{"x":9.72,"y":0.455},{"x":9.97,"y":0.345},{"x":10.22,"y":0.395},{"x":10.47,"y":0.455},{"x":10.72,"y":0.355},{"x":10.97,"y":0.415},{"x":11.22,"y":0.385},{"x":11.47,"y":0.315},{"x":11.72,"y":0.365},{"x":11.97,"y":0.425},{"x":7.05,"y":0.315},{"x":7.58,"y":0.295},{"x":8.03,"y":0.305},{"x":8.58,"y":0.275},{"x":9.03,"y":0.295},{"x":9.58,"y":0.255},{"x":10.03,"y":0.285},{"x":10.58,"y":0.315},{"x":11.03,"y":0.265},{"x":11.58,"y":0.295},{"x":6.55,"y":0.365},{"x":8.28,"y":0.355},{"x":9.28,"y":0.405},{"x":10.28,"y":0.375},{"x":11.28,"y":0.345},{"x":7.78,"y":0.365},{"x":8.78,"y":0.335},{"x":9.78,"y":0.395},{"x":10.78,"y":0.435},{"x":6.38,"y":0.555},{"x":6.88,"y":0.535},{"x":7.38,"y":0.575},{"x":7.88,"y":0.515},{"x":8.38,"y":0.535},{"x":8.88,"y":0.575},{"x":9.38,"y":0.525},{"x":9.88,"y":0.545},{"x":7.12,"y":0.555},{"x":7.62,"y":0.525},{"x":8.12,"y":0.565},{"x":8.62,"y":0.505},{"x":9.12,"y":0.535},{"x":9.62,"y":0.485},{"x":10.12,"y":0.535},{"x":10.62,"y":0.505},
{"x":10.52,"y":0.565},{"x":10.78,"y":0.525},{"x":11.02,"y":0.585},{"x":11.28,"y":0.545},{"x":11.53,"y":0.575},{"x":11.78,"y":0.515},{"x":12.03,"y":0.555},{"x":12.28,"y":0.585},{"x":12.53,"y":0.525},{"x":12.78,"y":0.565},{"x":13.03,"y":0.545},{"x":13.28,"y":0.535},{"x":11.13,"y":0.505},{"x":11.43,"y":0.475},{"x":11.68,"y":0.495},{"x":11.93,"y":0.545},{"x":12.18,"y":0.495},{"x":12.43,"y":0.535},{"x":12.68,"y":0.485},{"x":12.93,"y":0.475},{"x":13.18,"y":0.505},{"x":11.58,"y":0.615},{"x":12.12,"y":0.625},{"x":12.62,"y":0.585},{"x":13.48,"y":0.545},
{"x":12.12,"y":0.305},{"x":12.37,"y":0.275},{"x":12.62,"y":0.315},{"x":12.87,"y":0.265},{"x":13.12,"y":0.295},{"x":13.37,"y":0.265},{"x":13.62,"y":0.285},{"x":13.87,"y":0.245},{"x":14.12,"y":0.265},{"x":14.37,"y":0.235},{"x":14.62,"y":0.275},{"x":14.87,"y":0.215},{"x":15.12,"y":0.255},{"x":15.37,"y":0.225},{"x":15.62,"y":0.265},{"x":15.87,"y":0.195},{"x":16.12,"y":0.235},{"x":16.37,"y":0.205},{"x":16.62,"y":0.245},{"x":16.87,"y":0.185},{"x":17.12,"y":0.225},{"x":17.37,"y":0.195},{"x":17.62,"y":0.235},{"x":17.87,"y":0.175},{"x":18.12,"y":0.215},{"x":18.37,"y":0.185},{"x":18.62,"y":0.225},{"x":18.87,"y":0.205},{"x":19.12,"y":0.185},{"x":19.37,"y":0.205},{"x":19.62,"y":0.195},{"x":19.87,"y":0.175},{"x":12.25,"y":0.245},{"x":12.75,"y":0.215},{"x":13.25,"y":0.225},{"x":13.75,"y":0.215},{"x":14.25,"y":0.195},{"x":14.75,"y":0.205},{"x":15.25,"y":0.185},{"x":15.75,"y":0.215},{"x":16.25,"y":0.165},{"x":16.75,"y":0.185},{"x":17.25,"y":0.175},{"x":17.75,"y":0.155},{"x":18.25,"y":0.165},{"x":18.75,"y":0.145},{"x":19.25,"y":0.155},{"x":13.5,"y":0.315},{"x":14.0,"y":0.355},{"x":14.5,"y":0.345},{"x":15.0,"y":0.305},{"x":15.5,"y":0.325},{"x":16.0,"y":0.275},{"x":16.5,"y":0.295},{"x":17.0,"y":0.265},{"x":17.5,"y":0.285},{"x":18.0,"y":0.255},{"x":18.5,"y":0.275},{"x":19.0,"y":0.245},{"x":14.3,"y":0.385},{"x":15.3,"y":0.375},{"x":16.3,"y":0.345},{"x":17.3,"y":0.335},{"x":18.3,"y":0.315},{"x":12.9,"y":0.225},{"x":13.9,"y":0.175},{"x":14.9,"y":0.155},{"x":15.9,"y":0.145},{"x":16.9,"y":0.125},{"x":17.9,"y":0.135},
{"x":20.15,"y":0.215},{"x":20.35,"y":0.265},{"x":20.62,"y":0.155},{"x":20.88,"y":0.195},{"x":21.05,"y":0.235},{"x":21.32,"y":0.195},{"x":21.58,"y":0.165},{"x":21.82,"y":0.205},{"x":22.12,"y":0.225},{"x":22.38,"y":0.175},{"x":22.62,"y":0.135},{"x":22.85,"y":0.185},{"x":23.15,"y":0.175},{"x":23.45,"y":0.125},{"x":23.82,"y":0.205}
]
},
"layer": [
 {"data": {"name": "pts"},
  "mark": {"type": "circle", "size": 50, "color": "#404040", "opacity": 0.2, "strokeWidth": 0},
  "encoding": {
   "x": {"field": "x", "type": "quantitative", "scale": {"domain": [-1.034, 40], "nice": false, "zero": false}, "axis": {"values": [0, 10, 20, 30, 40]}, "title": "Antigenic distance (AU)"},
   "y": {"field": "y", "type": "quantitative", "scale": {"domain": [-0.1261, 1.016], "nice": false, "zero": false}, "axis": {"values": [0, 0.2, 0.4, 0.6, 0.8, 1.0], "format": ".1f"}, "title": "Titre correlation (ρ)"}
  }},
 {"data": {"name": "fit"},
  "mark": {"type": "area", "color": "#0000ff", "opacity": 0.25},
  "encoding": {
   "x": {"field": "x", "type": "quantitative", "title": "Antigenic distance (AU)"},
   "y": {"field": "lo", "type": "quantitative", "title": "Titre correlation (ρ)"},
   "y2": {"field": "hi"}
  }},
 {"data": {"name": "fit"},
  "mark": {"type": "line", "color": "#0000ff", "strokeWidth": 3.5, "interpolate": "monotone"},
  "encoding": {
   "x": {"field": "x", "type": "quantitative", "title": "Antigenic distance (AU)"},
   "y": {"field": "y", "type": "quantitative", "title": "Titre correlation (ρ)"}
  }},
 {"data": {"values": [{"ref": 0}]},
  "mark": {"type": "rule", "color": "black", "strokeWidth": 1, "strokeDash": [6, 5]},
  "encoding": {
   "y": {"field": "ref", "type": "quantitative", "title": "Titre correlation (ρ)"}
  }}
]
}
